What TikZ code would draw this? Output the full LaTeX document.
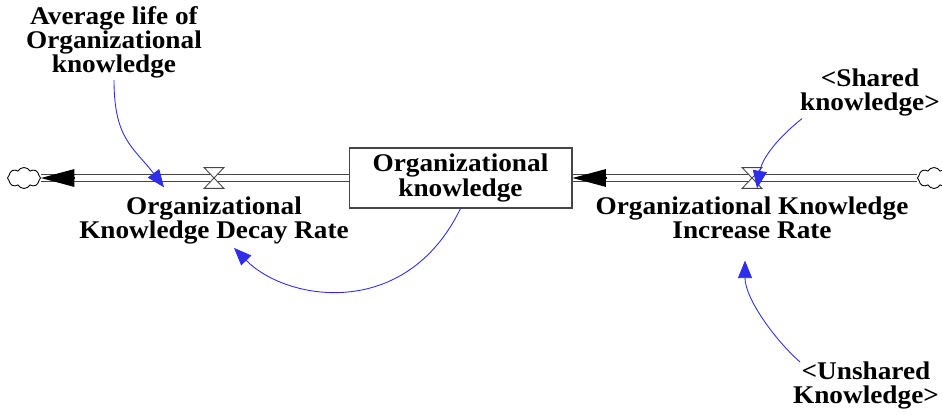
\documentclass[tikz,border=0pt]{standalone}
\usepackage{fontspec}
\setmainfont{Liberation Serif}[FakeStretch=1.07]
\usetikzlibrary{shapes.symbols, arrows.meta, positioning, calc}
\definecolor{linkblue}{RGB}{45,45,235}
\definecolor{pipeline}{RGB}{70,70,70}

\begin{document}
\begin{tikzpicture}[
    x=0.02cm, y=-0.02cm,
    txt/.style={align=center, inner sep=1pt, font=\fontsize{14.5}{13.7}\selectfont\bfseries},
    stock/.style={txt, rectangle, draw=pipeline, line width=0.6pt, minimum width=4.46cm, minimum height=1.2cm},
    valve/.style={rectangle, inner sep=0pt, minimum width=0.38cm, minimum height=0.4cm},
    sink/.style={cloud, cloud puffs=8, cloud puff arc=120, draw, line width=0.5pt, inner sep=0pt, minimum width=0.66cm, minimum height=0.42cm},
    pipe/.style={draw=pipeline, line width=0.6pt, double=white, double distance=3.8pt},
    flowtip/.style={-{Triangle[length=19pt, width=10pt]}, black, line width=0.6pt},
    arr/.style={-{Triangle[length=10pt, width=8pt]}, linkblue, line width=0.5pt},
]
\useasboundingbox (0,0) rectangle (942,415);

% stock, clouds and valves
\node[stock] (stock) at (460.5,178) {Organizational\\knowledge};
\node[sink] (lcloud) at (24,178) {};
\node[sink] (rcloud) at (934,178) {};
\node[valve] (lvalve) at (214,178) {};
\node[valve] (rvalve) at (752,178) {};

% rate names under the valves
\node[txt, below=0.12cm of lvalve] (decay) {Organizational\\Knowledge Decay Rate};
\node[txt, below=0.12cm of rvalve] (increase) {Organizational Knowledge\\Increase Rate};

% auxiliaries and shadow variables
\node[txt, anchor=north] (avglife) at (114,4) {Average life of\\Organizational\\knowledge};
\node[txt, anchor=north] (shared) at (870,67) {<Shared\\knowledge>};
\node[txt, anchor=north] (unshared) at (866,360) {<Unshared\\Knowledge>};

% flows
\draw[pipe] (stock.west) -- (lcloud.east);
\draw[pipe] (rcloud.west) -- (stock.east);
\draw[flowtip] ([xshift=19pt]lcloud.east) -- (lcloud.east);
\draw[flowtip] ([xshift=19pt]stock.east) -- (stock.east);
\foreach \v in {lvalve, rvalve}
  \filldraw[fill=white, draw=pipeline, line width=0.5pt] (\v.north west) -- (\v.north east) -- (\v.south west) -- (\v.south east) -- cycle;

% causal links
\draw[arr] (avglife.south) .. controls +(0,60) and +(-30,-40) .. ($(decay.north)+(-50,-7)$);
\draw[arr] (stock.south) .. controls +(-55,113) and +(52,53) .. ($(decay.south)+(20,2)$);
\draw[arr] ($(shared.south west)+(4,0)$) .. controls +(-25,20) and +(5,-30) .. ($(rvalve.south)+(5,0)$);
\draw[arr] ($(unshared.north west)+(9,2)$) .. controls +(-25,-22) and +(0,38) .. ($(increase.south)+(-7,20)$);

\end{tikzpicture}
\end{document}
